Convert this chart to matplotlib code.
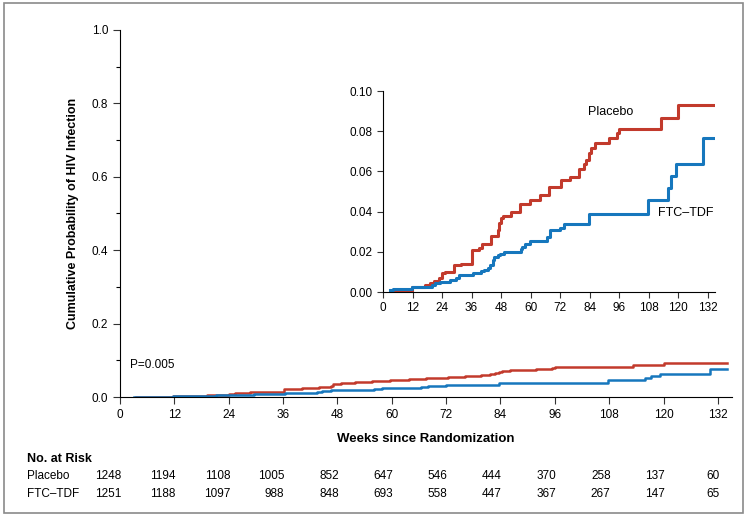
import matplotlib.pyplot as plt
import matplotlib.transforms as mtransforms
from matplotlib.patches import Rectangle
from matplotlib.ticker import MultipleLocator

plt.rcParams['font.family'] = ['Liberation Sans Narrow', 'Liberation Sans', 'DejaVu Sans']

# Kaplan-Meier steps (weeks, cumulative probability)
placebo_weeks = [3.5, 11.7, 17.1, 19.2, 20.9, 22.9, 24.0, 25.4, 28.8, 31.6,
                 36.1, 39.1, 40.1, 43.9, 46.6, 47.1, 48.0, 48.7, 51.9, 55.6,
                 59.7, 63.8, 67.5, 72.4, 76.1, 79.8, 81.6, 82.7, 83.7, 84.4,
                 86.0, 91.9, 95.3, 96.0, 113.2, 120.0, 134.0]
placebo_prob = [0.0, 0.0025, 0.0033, 0.0043, 0.0055, 0.0068, 0.0093, 0.0100, 0.0133, 0.0140,
                0.0210, 0.0220, 0.0240, 0.0278, 0.0310, 0.0345, 0.0366, 0.0378, 0.0400, 0.0440,
                0.0456, 0.0484, 0.0520, 0.0557, 0.0572, 0.0612, 0.0635, 0.0657, 0.0693, 0.0718,
                0.0743, 0.0765, 0.0793, 0.0813, 0.0864, 0.0930, 0.0930]

tdf_weeks = [3.0, 4.1, 11.7, 19.9, 21.3, 23.3, 27.4, 29.5, 30.9, 36.4,
             39.8, 41.2, 42.5, 43.5, 44.6, 45.3, 46.6, 47.7, 49.0, 56.0,
             56.7, 57.9, 59.7, 66.5, 67.9, 72.0, 73.7, 83.7, 107.7, 115.9,
             117.3, 119.1, 130.3, 134.0]
tdf_prob = [0.0010, 0.0013, 0.0025, 0.0035, 0.0045, 0.0051, 0.0058, 0.0071, 0.0083, 0.0096,
            0.0104, 0.0110, 0.0120, 0.0136, 0.0159, 0.0172, 0.0184, 0.0191, 0.0201, 0.0212,
            0.0226, 0.0237, 0.0254, 0.0274, 0.0307, 0.0320, 0.0340, 0.0386, 0.0458, 0.0516,
            0.0575, 0.0638, 0.0765, 0.0765]

risk_weeks = [0, 12, 24, 36, 48, 60, 72, 84, 96, 108, 120, 132]
risk_placebo = [1248, 1194, 1108, 1005, 852, 647, 546, 444, 370, 258, 137, 60]
risk_tdf = [1251, 1188, 1097, 988, 848, 693, 558, 447, 367, 267, 147, 65]

red = '#c23a2c'
blue = '#1677bd'

fig = plt.figure(figsize=(7.47, 5.16), dpi=100)
fig.patches.append(Rectangle((0.005, 0.006), 0.99, 0.988, transform=fig.transFigure,
                             fill=False, edgecolor='#8a8a8a', linewidth=1.2))

# main axes
ax = fig.add_axes([0.1606, 0.2306, 0.8187, 0.7113])
ax.step(placebo_weeks, placebo_prob, where='post', color=red, lw=1.8)
ax.step(tdf_weeks, tdf_prob, where='post', color=blue, lw=1.8)
ax.set_xlim(0, 135)
ax.set_ylim(0, 1.0)
ax.set_xticks(risk_weeks)
ax.set_yticks([0.0, 0.2, 0.4, 0.6, 0.8, 1.0])
ax.set_yticklabels(['0.0', '0.2', '0.4', '0.6', '0.8', '1.0'])
ax.yaxis.set_minor_locator(MultipleLocator(0.1))
ax.tick_params(axis='both', labelsize=8.5, length=5, width=0.8, color='#333333')
ax.tick_params(axis='y', which='minor', length=3, width=0.8)
for s in ['top', 'right']:
    ax.spines[s].set_visible(False)
ax.spines['left'].set_linewidth(0.8)
ax.spines['bottom'].set_linewidth(0.8)
ax.set_ylabel('Cumulative Probability of HIV Infection', fontsize=9,
              fontweight='bold', labelpad=9)
ax.set_xlabel('Weeks since Randomization', fontsize=9.5, fontweight='bold', labelpad=9)
ax.text(2.2, 0.087, 'P=0.005', fontsize=8.5, va='center', ha='left')

# inset
ins = fig.add_axes([0.5127, 0.4341, 0.4445, 0.3895])
ins.step(placebo_weeks, placebo_prob, where='post', color=red, lw=2.2)
ins.step(tdf_weeks, tdf_prob, where='post', color=blue, lw=2.2)
ins.set_xlim(0, 135)
ins.set_ylim(0, 0.10)
ins.set_xticks(risk_weeks)
ins.set_yticks([0.0, 0.02, 0.04, 0.06, 0.08, 0.10])
ins.set_yticklabels(['0.00', '0.02', '0.04', '0.06', '0.08', '0.10'])
ins.tick_params(axis='both', labelsize=8.5, length=4, width=0.8, color='#333333')
for s in ['top', 'right']:
    ins.spines[s].set_visible(False)
ins.spines['left'].set_linewidth(0.8)
ins.spines['bottom'].set_linewidth(0.8)
ins.patch.set_alpha(0)
ins.text(92.7, 0.0896, 'Placebo', fontsize=9, ha='center', va='center')
ins.text(123, 0.0393, 'FTC\u2013TDF', fontsize=9, ha='center', va='center')

# number at risk table
fig.text(0.036, 0.110, 'No. at Risk', fontsize=9, fontweight='bold', ha='left', va='center')
fig.text(0.036, 0.0775, 'Placebo', fontsize=8.5, ha='left', va='center')
fig.text(0.036, 0.0426, 'FTC\u2013TDF', fontsize=8.5, ha='left', va='center')
blend = mtransforms.blended_transform_factory(ax.transData, fig.transFigure)
for w, p, t in zip(risk_weeks, risk_placebo, risk_tdf):
    fig.text(w + 0.3, 0.0775, str(p), transform=blend, fontsize=8.5, ha='right', va='center')
    fig.text(w + 0.3, 0.0426, str(t), transform=blend, fontsize=8.5, ha='right', va='center')

fig.savefig('out.png', dpi=100)
